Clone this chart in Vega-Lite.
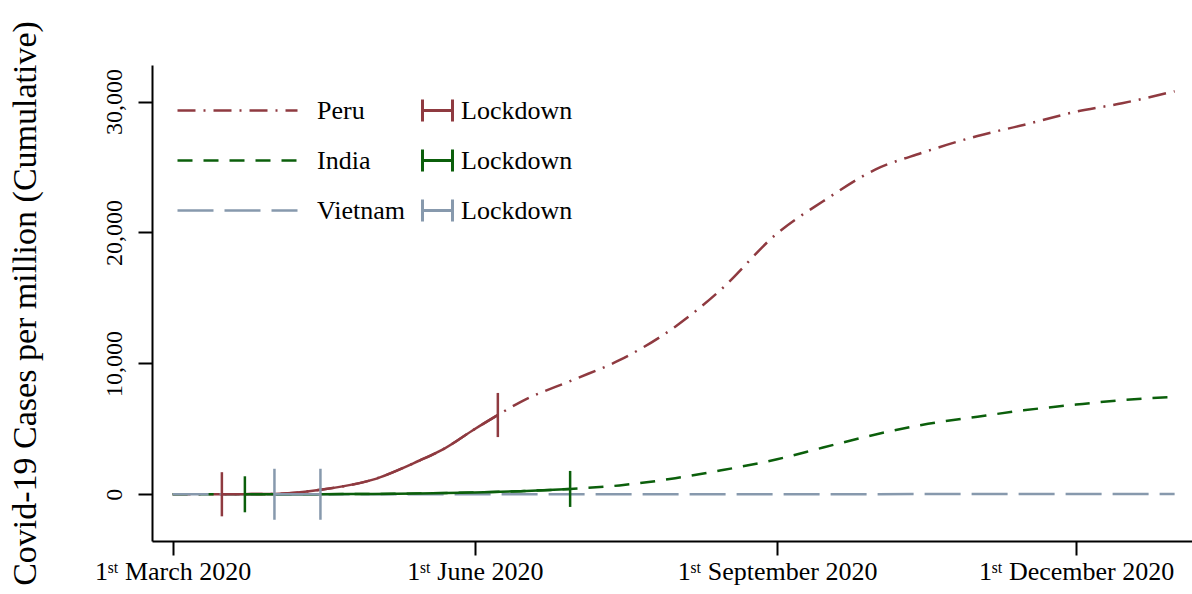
{
  "$schema": "https://vega.github.io/schema/vega-lite/v6.json",
  "width": 1040,
  "height": 476,
  "autosize": {"type": "none"},
  "padding": {"left": 152, "top": 65, "right": 0, "bottom": 53},
  "background": "white",
  "config": {
    "view": {"stroke": null},
    "font": "Liberation Serif",
    "legend": {"padding": 0, "labelColor": "black", "labelFont": "Liberation Serif"}
  },
  "datasets": {
    "series": [
      {"country": "Peru", "date": "2020-03-01", "value": 0, "lockdown": false},
      {"country": "Peru", "date": "2020-03-16", "value": 3, "lockdown": true},
      {"country": "Peru", "date": "2020-03-23", "value": 12, "lockdown": true},
      {"country": "Peru", "date": "2020-04-01", "value": 32, "lockdown": true},
      {"country": "Peru", "date": "2020-04-15", "value": 348, "lockdown": true},
      {"country": "Peru", "date": "2020-05-01", "value": 1121, "lockdown": true},
      {"country": "Peru", "date": "2020-05-15", "value": 2563, "lockdown": true},
      {"country": "Peru", "date": "2020-05-22", "value": 3388, "lockdown": true},
      {"country": "Peru", "date": "2020-06-01", "value": 4989, "lockdown": true},
      {"country": "Peru", "date": "2020-06-08", "value": 6057, "lockdown": true},
      {"country": "Peru", "date": "2020-06-15", "value": 7067, "lockdown": false},
      {"country": "Peru", "date": "2020-07-01", "value": 8750, "lockdown": false},
      {"country": "Peru", "date": "2020-07-15", "value": 10243, "lockdown": false},
      {"country": "Peru", "date": "2020-08-01", "value": 12805, "lockdown": false},
      {"country": "Peru", "date": "2020-08-15", "value": 15660, "lockdown": false},
      {"country": "Peru", "date": "2020-09-01", "value": 19931, "lockdown": false},
      {"country": "Peru", "date": "2020-09-15", "value": 22385, "lockdown": false},
      {"country": "Peru", "date": "2020-10-01", "value": 24820, "lockdown": false},
      {"country": "Peru", "date": "2020-10-15", "value": 26077, "lockdown": false},
      {"country": "Peru", "date": "2020-11-01", "value": 27374, "lockdown": false},
      {"country": "Peru", "date": "2020-11-15", "value": 28215, "lockdown": false},
      {"country": "Peru", "date": "2020-12-01", "value": 29227, "lockdown": false},
      {"country": "Peru", "date": "2020-12-15", "value": 29875, "lockdown": false},
      {"country": "Peru", "date": "2020-12-31", "value": 30790, "lockdown": false},
      {"country": "India", "date": "2020-03-01", "value": 0, "lockdown": false},
      {"country": "India", "date": "2020-03-23", "value": 0.3, "lockdown": true},
      {"country": "India", "date": "2020-04-15", "value": 9, "lockdown": true},
      {"country": "India", "date": "2020-05-01", "value": 25, "lockdown": true},
      {"country": "India", "date": "2020-05-15", "value": 59, "lockdown": true},
      {"country": "India", "date": "2020-06-01", "value": 138, "lockdown": true},
      {"country": "India", "date": "2020-06-15", "value": 242, "lockdown": true},
      {"country": "India", "date": "2020-06-30", "value": 410, "lockdown": true},
      {"country": "India", "date": "2020-07-15", "value": 679, "lockdown": false},
      {"country": "India", "date": "2020-08-01", "value": 1228, "lockdown": false},
      {"country": "India", "date": "2020-08-15", "value": 1830, "lockdown": false},
      {"country": "India", "date": "2020-09-01", "value": 2674, "lockdown": false},
      {"country": "India", "date": "2020-09-15", "value": 3572, "lockdown": false},
      {"country": "India", "date": "2020-10-01", "value": 4573, "lockdown": false},
      {"country": "India", "date": "2020-10-15", "value": 5297, "lockdown": false},
      {"country": "India", "date": "2020-11-01", "value": 5928, "lockdown": false},
      {"country": "India", "date": "2020-11-15", "value": 6413, "lockdown": false},
      {"country": "India", "date": "2020-12-01", "value": 6855, "lockdown": false},
      {"country": "India", "date": "2020-12-15", "value": 7196, "lockdown": false},
      {"country": "India", "date": "2020-12-31", "value": 7442, "lockdown": false},
      {"country": "Vietnam", "date": "2020-03-01", "value": 0.2, "lockdown": false},
      {"country": "Vietnam", "date": "2020-04-01", "value": 2.3, "lockdown": true},
      {"country": "Vietnam", "date": "2020-04-15", "value": 2.8, "lockdown": true},
      {"country": "Vietnam", "date": "2020-06-01", "value": 3.4, "lockdown": false},
      {"country": "Vietnam", "date": "2020-08-01", "value": 6, "lockdown": false},
      {"country": "Vietnam", "date": "2020-09-01", "value": 10.8, "lockdown": false},
      {"country": "Vietnam", "date": "2020-12-31", "value": 15, "lockdown": false}
    ],
    "markers": [
      {"country": "Peru", "date": "2020-03-16", "value": 3},
      {"country": "Peru", "date": "2020-06-08", "value": 6057},
      {"country": "India", "date": "2020-03-23", "value": 0.3},
      {"country": "India", "date": "2020-06-30", "value": 410},
      {"country": "Vietnam", "date": "2020-04-01", "value": 2.3},
      {"country": "Vietnam", "date": "2020-04-15", "value": 2.8}
    ]
  },
  "encoding": {
    "x": {
      "field": "date",
      "type": "temporal",
      "scale": {
        "type": "utc",
        "domain": [
          {"year": 2020, "month": 2, "date": 23, "hours": 17, "minutes": 30, "utc": true},
          {"year": 2021, "month": 1, "date": 5, "hours": 7, "utc": true}
        ]
      },
      "axis": {
        "title": null,
        "grid": false,
        "values": [
          {"year": 2020, "month": 3, "date": 1, "utc": true},
          {"year": 2020, "month": 6, "date": 1, "utc": true},
          {"year": 2020, "month": 9, "date": 1, "utc": true},
          {"year": 2020, "month": 12, "date": 1, "utc": true}
        ],
        "labelExpr": "'1ˢᵗ ' + utcFormat(datum.value, '%B %Y')",
        "labelFont": "Liberation Serif",
        "labelFontSize": 26,
        "labelColor": "black",
        "labelPadding": 3,
        "labelFlush": false,
        "labelOverlap": false,
        "labelLimit": 0,
        "tickSize": 14,
        "tickWidth": 2,
        "tickColor": "black",
        "domainColor": "black",
        "domainWidth": 2
      }
    },
    "y": {
      "field": "value",
      "type": "quantitative",
      "scale": {"domain": [-3568, 32796], "nice": false, "zero": false},
      "axis": {
        "title": "Covid-19 Cases per million (Cumulative)",
        "titleFont": "Liberation Serif",
        "titleFontSize": 34,
        "titleFontWeight": "normal",
        "titleColor": "black",
        "titlePadding": 60,
        "grid": false,
        "values": [0, 10000, 20000, 30000],
        "format": ",.0f",
        "labelAngle": 270,
        "labelAlign": "center",
        "labelBaseline": "alphabetic",
        "labelPadding": 17,
        "labelFont": "Liberation Serif",
        "labelFontSize": 24,
        "labelColor": "black",
        "labelLimit": 0,
        "tickSize": 14,
        "tickWidth": 2,
        "tickColor": "black",
        "domainColor": "black",
        "domainWidth": 2
      }
    }
  },
  "layer": [
    {
      "data": {"name": "series"},
      "mark": {"type": "line", "strokeWidth": 2.5, "interpolate": "monotone", "strokeCap": "butt"},
      "encoding": {
        "color": {
          "field": "country",
          "type": "nominal",
          "scale": {"domain": ["Peru", "India", "Vietnam"], "range": ["#8f3a40", "#0b5f0b", "#8799ad"]},
          "legend": {
            "title": null, "orient": "none", "legendX": 69, "legendY": 29, "direction": "vertical",
            "symbolType": "M-4,0H4", "symbolSize": 900, "symbolStrokeWidth": 2.5,
            "labelFontSize": 26, "labelOffset": 63, "rowPadding": 20
          }
        },
        "strokeDash": {
          "field": "country",
          "type": "nominal",
          "scale": {"domain": ["Peru", "India", "Vietnam"], "range": [[18, 8, 2, 8], [15, 11], [36, 11]]},
          "legend": {
            "title": null, "orient": "none", "legendX": 69, "legendY": 29, "direction": "vertical",
            "symbolType": "M-4,0H4", "symbolSize": 900, "symbolStrokeWidth": 2.5,
            "labelFontSize": 26, "labelOffset": 63, "rowPadding": 20
          }
        }
      }
    },
    {
      "data": {"name": "series"},
      "transform": [{"filter": "datum.lockdown"}],
      "mark": {"type": "line", "strokeWidth": 2.5, "interpolate": "monotone", "strokeCap": "butt"},
      "encoding": {
        "color": {
          "field": "country",
          "type": "nominal",
          "scale": {"domain": ["Peru", "India", "Vietnam"], "range": ["#8f3a40", "#0b5f0b", "#8799ad"]},
          "legend": null
        }
      }
    },
    {
      "data": {"name": "markers"},
      "mark": {"type": "point", "shape": "M0,-1V1", "filled": false, "strokeWidth": 2.5, "opacity": 1},
      "encoding": {
        "color": {
          "field": "country",
          "type": "nominal",
          "scale": {"domain": ["Peru", "India", "Vietnam"], "range": ["#8f3a40", "#0b5f0b", "#8799ad"]},
          "legend": {
            "title": null, "orient": "none", "legendX": 269, "legendY": 29, "direction": "vertical",
            "symbolType": "M-1,-0.73V0.73M-1,0H1M1,-0.73V0.73", "symbolSize": 900, "symbolStrokeWidth": 3,
            "labelFontSize": 26, "labelOffset": 7, "rowPadding": 15,
            "labelExpr": "'Lockdown'"
          }
        },
        "size": {
          "field": "country",
          "type": "nominal",
          "scale": {"type": "point", "domain": ["India", "Peru", "Vietnam"], "range": [1296, 2601], "padding": 0},
          "legend": null
        }
      }
    }
  ],
  "resolve": {
    "scale": {"color": "independent", "size": "independent", "strokeDash": "independent"},
    "legend": {"color": "independent"}
  }
}
